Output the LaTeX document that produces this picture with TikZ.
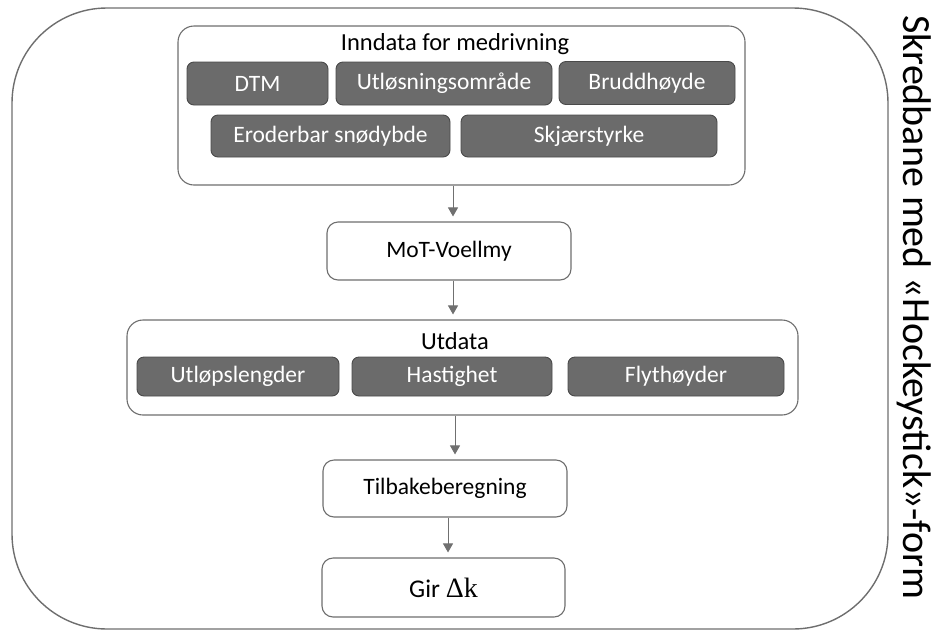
\documentclass[tikz,border=0pt]{standalone}
\usepackage{fontspec}
\setmainfont{Carlito}
\newfontfamily\serifdelta{Liberation Serif}
\usetikzlibrary{arrows.meta}

\definecolor{edgegray}{HTML}{6E6E6E}
\definecolor{boxfill}{HTML}{6B6B6B}
\definecolor{boxedge}{HTML}{4A4A4A}
\definecolor{arrowgray}{HTML}{707070}

\tikzset{
  frame/.style={draw=edgegray, line width=1.4pt, rounded corners=95pt},
  groupbox/.style={draw=edgegray, line width=1.1pt, rounded corners=16pt, fill=white},
  stepbox/.style={draw=edgegray, line width=1.1pt, rounded corners=11pt, fill=white,
    font=\fontsize{23.5}{26}\selectfont, text=black},
  databox/.style={draw=boxedge, line width=0.9pt, rounded corners=7pt, fill=boxfill,
    font=\fontsize{23.5}{26}\selectfont, text=white},
  grouptitle/.style={font=\fontsize{24.5}{27}\selectfont, text=black},
  flow/.style={draw=arrowgray, line width=1pt, -{Triangle[length=9pt,width=10pt]}, shorten >=5pt}
}

\begin{document}
\begin{tikzpicture}[x=1pt, y=-1pt]
  \useasboundingbox (0,0) rectangle (942,630);

  % outer frame for the whole chain
  \node[frame, minimum width=876pt, minimum height=621pt] (outer) at (450,318.5) {};

  % side label
  \node[rotate=-90, font=\fontsize{40}{44}\selectfont] (side) at (914,307)
    {Skredbane med «Hockeystick»-form};

  % input group
  \node[groupbox, minimum width=567pt, minimum height=159pt] (input) at (461.5,105.5) {};
  \node[grouptitle] (inputtitle) at (455,44) {Inndata for medrivning};
  \node[databox, minimum width=141pt, minimum height=43pt] (dtm) at (257.5,83.5) {DTM};
  \node[databox, minimum width=216pt, minimum height=43pt] (release) at (444,83.5) {Utløsningsområde};
  \node[databox, minimum width=176pt, minimum height=43pt] (fracture) at (647,83) {Bruddhøyde};
  \node[databox, minimum width=239pt, minimum height=42pt] (erodible) at (330.5,136) {Eroderbar snødybde};
  \node[databox, minimum width=256pt, minimum height=42pt] (shear) at (589,136) {Skjærstyrke};

  % model
  \node[stepbox, minimum width=244pt, minimum height=58pt] (mot) at (449,251) {MoT-Voellmy};

  % output group
  \node[groupbox, minimum width=671pt, minimum height=95pt] (output) at (462.5,367.5) {};
  \node[grouptitle] (outputtitle) at (455,341) {Utdata};
  \node[databox, minimum width=202pt, minimum height=39pt] (runout) at (238,376.5) {Utløpslengder};
  \node[databox, minimum width=200pt, minimum height=39pt] (speed) at (452,376.5) {Hastighet};
  \node[databox, minimum width=216pt, minimum height=39pt] (flow) at (676,376.5) {Flythøyder};

  % back calculation and result
  \node[stepbox, minimum width=244pt, minimum height=57pt] (back) at (445,488.5) {Tilbakeberegning};
  \node[stepbox, minimum width=243pt, minimum height=59pt, font=\fontsize{25.5}{28}\selectfont]
    (result) at (443.5,587.5)
    {Gir {\serifdelta\fontsize{28}{30}\selectfont Δk}};

  % connectors
  \draw[flow] ([xshift=4pt]mot.north |- input.south) -- ([xshift=4pt]mot.north);
  \draw[flow] ([xshift=4pt]mot.south) -- ([xshift=4pt]mot.south |- output.north);
  \draw[flow] ([xshift=10pt]back.north |- output.south) -- ([xshift=10pt]back.north);
  \draw[flow] ([xshift=3pt]back.south) -- ([xshift=4.5pt]result.north);
\end{tikzpicture}
\end{document}
